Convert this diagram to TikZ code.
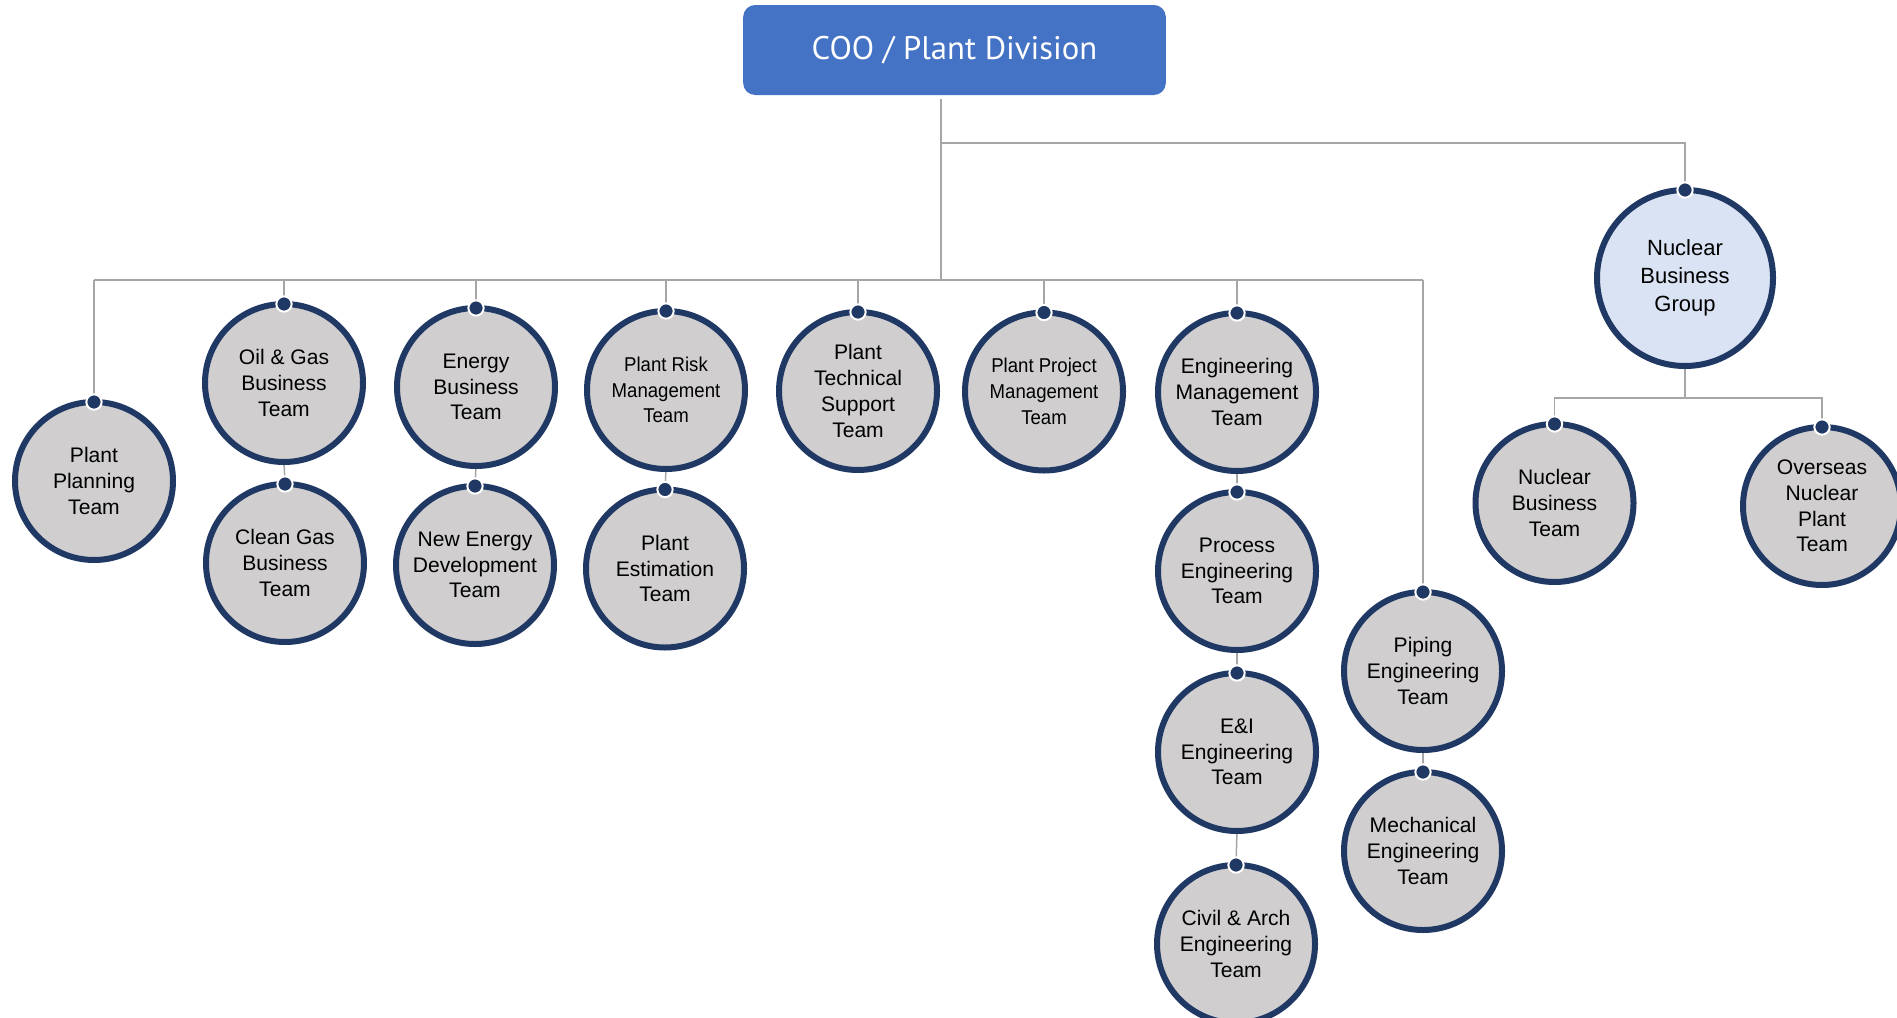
\documentclass[tikz,border=0pt]{standalone}
\usepackage{fontspec}
\setmainfont{Liberation Sans}
\newfontfamily\titlefont{PT Sans}
\newfontfamily\condfont[FakeStretch=0.93]{Liberation Sans}
\definecolor{navy}{HTML}{203864}
\definecolor{cfill}{HTML}{D0CECE}
\definecolor{nfill}{HTML}{DAE3F3}
\definecolor{tblue}{HTML}{4472C4}
\definecolor{lgrey}{HTML}{A6A6A6}
\pgfdeclarelayer{lines}
\pgfsetlayers{lines,main}
\begin{document}
\begin{tikzpicture}[x=0.75pt,y=-0.75pt,
 team/.style={circle, draw=navy, fill=cfill, line width=4.5pt, minimum size=118.5pt, inner sep=0pt, outer sep=0pt, align=center, font=\fontsize{15.8}{19.3}\selectfont, text=black},
 condteam/.style={team, font=\condfont\fontsize{15}{19.3}\selectfont},
 group/.style={team, fill=nfill, minimum size=132pt, font=\fontsize{16.5}{20.8}\selectfont},
 link/.style={draw=lgrey, line width=1.1pt},
 dotmark/.style={fill=navy, draw=white, line width=1.5pt}
]
\useasboundingbox (0,0) rectangle (1897,1017);

\node[fill=tblue, rounded corners=9pt, minimum width=317pt, minimum height=67.5pt, inner sep=0pt, text=white, font=\titlefont\fontsize{24.5}{28}\selectfont] (coo) at (954.5,50) {COO / Plant Division};

\node[team] (planning) at (94,481) {Plant\\Planning\\Team};
\node[team] (oilgas) at (284,383) {Oil \& Gas\\Business\\Team};
\node[team] (cleangas) at (285,563) {Clean Gas\\Business\\Team};
\node[team] (energy) at (476,387) {Energy\\Business\\Team};
\node[team] (newenergy) at (475,565) {New Energy\\Development\\Team};
\node[condteam] (risk) at (666,390) {Plant Risk\\Management\\Team};
\node[team] (estim) at (665,568.5) {Plant\\Estimation\\Team};
\node[team] (tech) at (858,391) {Plant\\Technical\\Support\\Team};
\node[condteam] (project) at (1044,391.5) {Plant Project\\Management\\Team};
\node[team] (engmgmt) at (1237,392) {Engineering\\Management\\Team};
\node[team] (process) at (1237,571) {Process\\Engineering\\Team};
\node[team] (ei) at (1237,752) {E\&I\\Engineering\\Team};
\node[team] (civil) at (1236,944) {Civil \& Arch\\Engineering\\Team};
\node[team] (piping) at (1423,671) {Piping\\Engineering\\Team};
\node[team] (mech) at (1423,851) {Mechanical\\Engineering\\Team};
\node[group] (nucgroup) at (1685,278) {Nuclear\\Business\\Group};
\node[team] (nucteam) at (1554.5,503) {Nuclear\\Business\\Team};
\node[team] (overseas) at (1822,506) {Overseas\\Nuclear\\Plant\\Team};

\begin{pgfonlayer}{lines}
\fill[white] (0,0) rectangle (1897,1017);
\coordinate (cooout) at (941,99);
\coordinate (split) at (941,143);
\coordinate (bus) at (941,280);
\coordinate (nbus) at (1685,398);
\draw[link] (cooout) -- (bus);
\draw[link] (split) -| (nucgroup.north);
\draw[link] (planning.north |- bus) -- (piping.north |- bus);
\foreach \n in {planning,oilgas,energy,risk,tech,project,engmgmt,piping}
  \draw[link] (\n.north |- bus) -- (\n.north);
\draw[link] (oilgas.south) -- (cleangas.north);
\draw[link] (energy.south) -- (newenergy.north);
\draw[link] (risk.south) -- (estim.north);
\draw[link] (engmgmt.south) -- (process.north);
\draw[link] (process.south) -- (ei.north);
\draw[link] (ei.south) -- (civil.north);
\draw[link] (piping.south) -- (mech.north);
\draw[link] (nucgroup.south) -- (nbus);
\draw[link] (nucteam.north) |- (overseas.north |- nbus) -- (overseas.north);
\end{pgfonlayer}

\foreach \n in {planning,oilgas,cleangas,energy,newenergy,risk,estim,tech,project,engmgmt,process,ei,civil,piping,mech,nucgroup,nucteam,overseas}
  \fill[dotmark] (\n.north) circle[radius=5.75pt];
\end{tikzpicture}
\end{document}
